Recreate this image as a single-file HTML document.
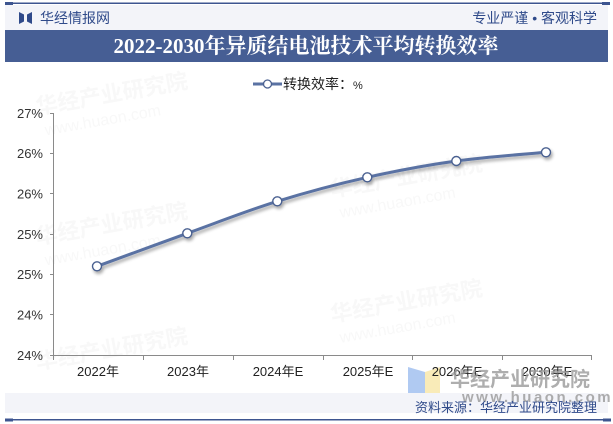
<!DOCTYPE html>
<html><head><meta charset="utf-8"><style>
html,body{margin:0;padding:0;background:#fff;}
body{width:613px;height:424px;overflow:hidden;position:relative;font-family:"Liberation Sans","Noto Sans CJK SC",sans-serif;}
</style></head><body>
<svg width="613" height="424" viewBox="0 0 613 424" xmlns="http://www.w3.org/2000/svg" style="position:absolute;left:0;top:0">
<defs>
<filter id="sh" x="-10%" y="-10%" width="120%" height="130%">
<feGaussianBlur in="SourceAlpha" stdDeviation="1.5"/>
<feOffset dx="1.5" dy="2.5" result="o"/>
<feComponentTransfer><feFuncA type="linear" slope="0.35"/></feComponentTransfer>
<feMerge><feMergeNode/><feMergeNode in="SourceGraphic"/></feMerge>
</filter>
</defs>
<!-- top line -->
<rect x="5" y="2.5" width="603" height="1.5" fill="#3d5590"/>
<rect x="5" y="2" width="8" height="3" fill="#3d5590"/>
<rect x="602" y="2" width="8" height="3" fill="#3d5590"/>
<!-- header band -->
<rect x="5" y="5" width="603" height="25" fill="#f3f4f9"/>
<!-- logo -->
<path d="M19 12 L24 14.5 L24 21.5 L19 24 Z" fill="#2f4a8a"/>
<path d="M32 12 L27 14.5 L27 21.5 L32 24 Z" fill="#2f4a8a"/>
<text x="40" y="23" font-size="14" fill="#2f4a8a" font-family="Liberation Sans,Noto Sans CJK SC,sans-serif">华经情报网</text>
<text x="597" y="23" font-size="14" fill="#2f4a8a" text-anchor="end" font-family="Liberation Sans,Noto Sans CJK SC,sans-serif">专业严谨 • 客观科学</text>
<!-- title bar -->
<rect x="5" y="30" width="603" height="32" fill="#465e94"/>
<text x="306" y="53" font-size="21" font-weight="bold" fill="#fff" text-anchor="middle" font-family="Liberation Serif,Noto Serif CJK SC,serif">2022-2030年异质结电池技术平均转换效率</text>

<!-- faint watermarks -->
<g opacity="0.04" font-weight="bold" fill="#555" font-family="Liberation Sans,Noto Sans CJK SC,sans-serif">
<g transform="rotate(-10 120 95)"><text x="35" y="100" font-size="22">华经产业研究院</text><text x="40" y="122" font-size="16" font-weight="normal">www.huaon.com</text></g>
<g transform="rotate(-10 120 225)"><text x="35" y="230" font-size="22">华经产业研究院</text><text x="40" y="252" font-size="16" font-weight="normal">www.huaon.com</text></g>
<g transform="rotate(-10 120 350)"><text x="35" y="355" font-size="22">华经产业研究院</text></g>
<g transform="rotate(-10 400 180)"><text x="330" y="185" font-size="22">华经产业研究院</text><text x="335" y="207" font-size="16" font-weight="normal">www.huaon.com</text></g>
<g transform="rotate(-10 400 305)"><text x="330" y="310" font-size="22">华经产业研究院</text><text x="335" y="332" font-size="16" font-weight="normal">www.huaon.com</text></g>
</g>

<!-- legend -->
<line x1="253" y1="84" x2="282" y2="84" stroke="#5a72a3" stroke-width="3"/>
<circle cx="267.5" cy="84" r="4" fill="#fff" stroke="#4a6090" stroke-width="1.3"/>
<text x="283" y="89" font-size="14" fill="#222" font-family="Liberation Sans,Noto Sans CJK SC,sans-serif">转换效率：<tspan font-size="11">%</tspan></text>

<!-- y axis -->
<line x1="53.5" y1="113" x2="53.5" y2="355" stroke="#8a8a8a" stroke-width="1"/>
<g stroke="#8a8a8a" stroke-width="1">
<line x1="50" y1="113.5" x2="53.5" y2="113.5"/>
<line x1="50" y1="153.5" x2="53.5" y2="153.5"/>
<line x1="50" y1="193.5" x2="53.5" y2="193.5"/>
<line x1="50" y1="234.5" x2="53.5" y2="234.5"/>
<line x1="50" y1="274.5" x2="53.5" y2="274.5"/>
<line x1="50" y1="314.5" x2="53.5" y2="314.5"/>
</g>
<g font-size="13" fill="#333" text-anchor="end" font-family="Liberation Sans,sans-serif">
<text x="43" y="118">27%</text>
<text x="43" y="158">26%</text>
<text x="43" y="198.5">26%</text>
<text x="43" y="239">25%</text>
<text x="43" y="279">25%</text>
<text x="43" y="319.5">24%</text>
<text x="43" y="360">24%</text>
</g>
<!-- x axis -->
<line x1="50" y1="355.5" x2="592" y2="355.5" stroke="#8a8a8a" stroke-width="1"/>
<g stroke="#8a8a8a" stroke-width="1">
<line x1="53.5" y1="355" x2="53.5" y2="360"/>
<line x1="143.5" y1="355" x2="143.5" y2="360"/>
<line x1="233.5" y1="355" x2="233.5" y2="360"/>
<line x1="323.5" y1="355" x2="323.5" y2="360"/>
<line x1="412.5" y1="355" x2="412.5" y2="360"/>
<line x1="502.5" y1="355" x2="502.5" y2="360"/>
<line x1="591.5" y1="355" x2="591.5" y2="360"/>
</g>

<!-- bottom-right watermark logo -->
<path d="M408 367 L425 372 L425 400 L408 395 Z" fill="#8fb4ec" opacity="0.7"/>
<path d="M425 372 L440 367 L440 395 L425 400 Z" fill="#f6e39a" opacity="0.7"/>

<g font-size="13" fill="#222" text-anchor="middle" font-family="Liberation Sans,Noto Sans CJK SC,sans-serif">
<text x="98" y="376">2022年</text>
<text x="188" y="376">2023年</text>
<text x="278" y="376">2024年E</text>
<text x="368" y="376">2025年E</text>
<text x="457" y="376">2026年E</text>
<text x="547" y="376">2030年E</text>
</g>

<!-- series -->
<g filter="url(#sh)">
<path d="M97 266.3 C112.05 260.8 157.25 244.13 187.3 233.3 C217.35 222.47 247.3 210.63 277.3 201.3 C307.3 191.97 337.47 184.02 367.3 177.3 C397.13 170.58 426.52 165.17 456.3 161 C486.08 156.83 531.05 153.75 546 152.3" fill="none" stroke="#5a72a3" stroke-width="3"/>
<g fill="#fff" stroke="#4a6090" stroke-width="1.4">
<circle cx="97" cy="266.3" r="4.5"/>
<circle cx="187.3" cy="233.3" r="4.5"/>
<circle cx="277.3" cy="201.3" r="4.5"/>
<circle cx="367.3" cy="177.3" r="4.5"/>
<circle cx="456.3" cy="161" r="4.5"/>
<circle cx="546" cy="152.3" r="4.5"/>
</g>
</g>

<!-- source band -->
<rect x="5" y="393" width="603" height="20" fill="#f3f4f9"/>
<g font-weight="bold" fill="#9a9a9a" opacity="0.8" font-family="Liberation Sans,Noto Sans CJK SC,sans-serif">
<text x="450" y="386" font-size="20">华经产业研究院</text>
<text x="462" y="402" font-size="15" letter-spacing="2.5">www.huaon.com</text>
</g>
<text x="597" y="412" font-size="13" fill="#2f4a8a" text-anchor="end" font-family="Liberation Sans,Noto Sans CJK SC,sans-serif">资料来源：华经产业研究院整理</text>
<!-- bottom line -->
<rect x="5" y="419" width="603" height="1.5" fill="#3d5590"/>
<rect x="5" y="418.5" width="8" height="3" fill="#3d5590"/>
<rect x="603" y="418.5" width="8" height="3" fill="#3d5590"/>
</svg>
</body></html>
